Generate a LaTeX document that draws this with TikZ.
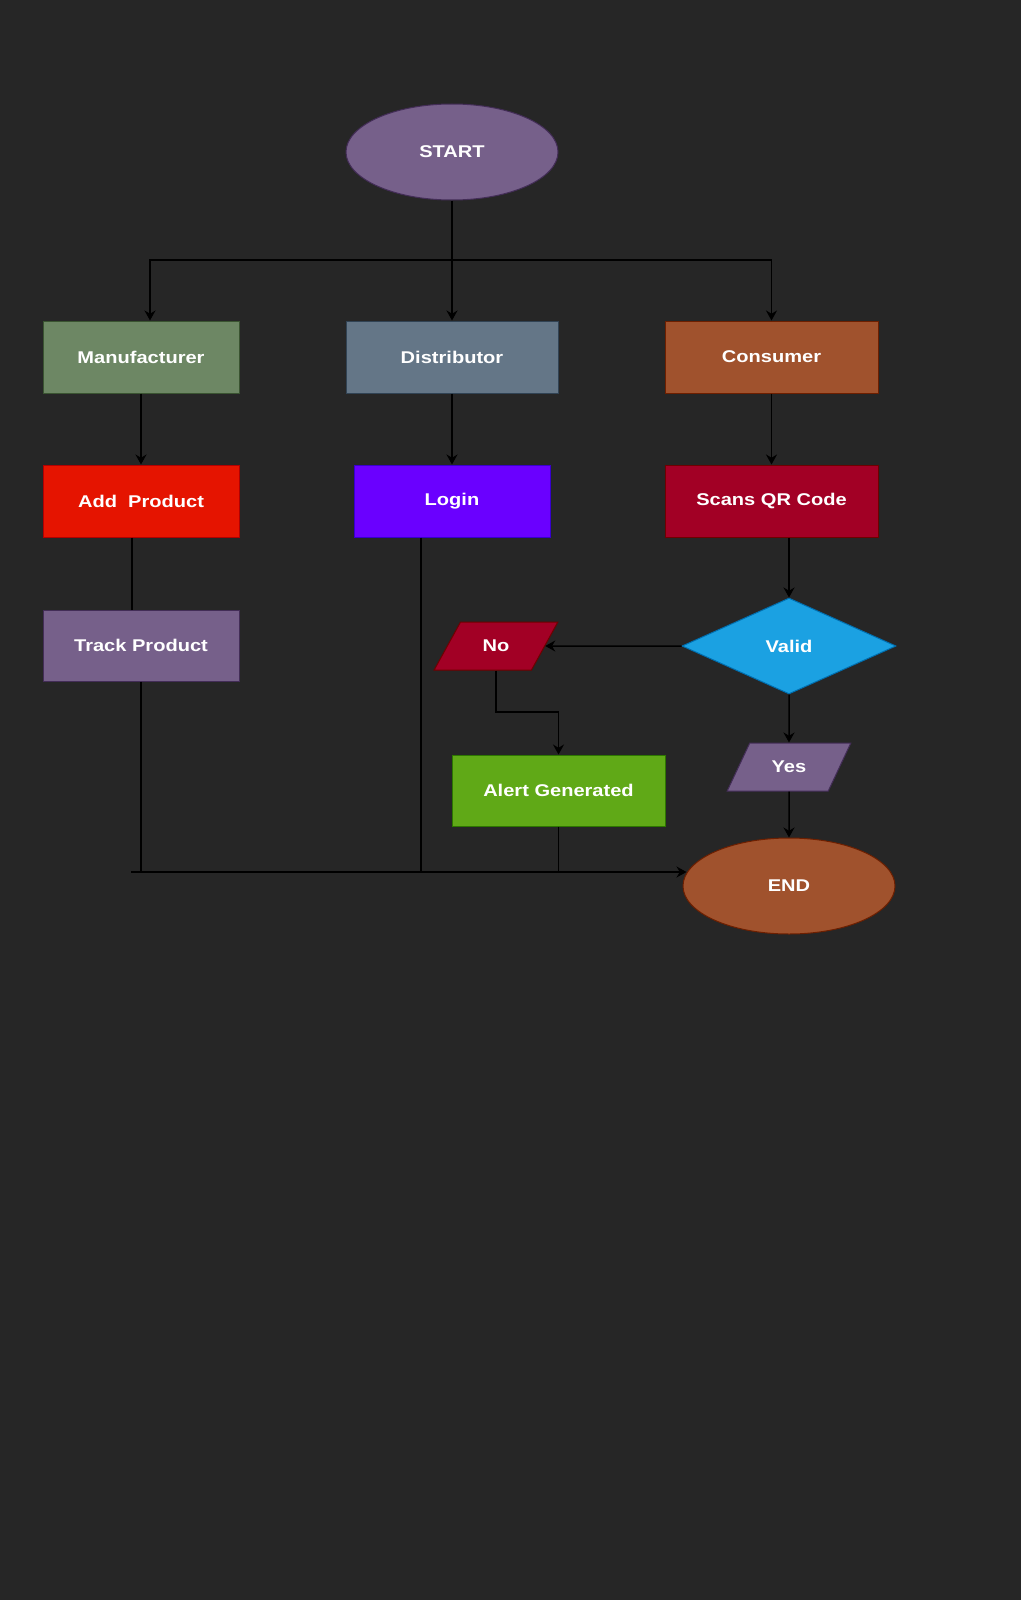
\documentclass[tikz,border=0pt]{standalone}
\usepackage{fontspec}
\setmainfont{Liberation Sans}[FakeStretch=1.18]
\usetikzlibrary{shapes.geometric,arrows.meta}

\definecolor{bg}{HTML}{262626}
\definecolor{purpleF}{HTML}{76608A}\definecolor{purpleD}{HTML}{432D57}
\definecolor{greenF}{HTML}{6D8764}\definecolor{greenD}{HTML}{3A5431}
\definecolor{slateF}{HTML}{647687}\definecolor{slateD}{HTML}{314354}
\definecolor{siennaF}{HTML}{A0522D}\definecolor{siennaD}{HTML}{6D1F00}
\definecolor{redF}{HTML}{E51400}\definecolor{redD}{HTML}{B20000}
\definecolor{violetF}{HTML}{6A00FF}\definecolor{violetD}{HTML}{3700CC}
\definecolor{crimsonF}{HTML}{A20025}\definecolor{crimsonD}{HTML}{6F0000}
\definecolor{cyanF}{HTML}{1BA1E2}\definecolor{cyanD}{HTML}{006EAF}
\definecolor{limeF}{HTML}{60A917}\definecolor{limeD}{HTML}{2D7600}

\begin{document}
\begin{tikzpicture}[x=1pt,y=-1pt,
  shapebase/.style={line width=1pt, text=white, inner sep=0pt,
    font=\fontsize{17}{20}\selectfont\bfseries},
  procbox/.style={shapebase, rectangle, minimum height=72},
  terminal/.style={shapebase, ellipse, minimum width=212, minimum height=96},
  decision/.style={shapebase, diamond, minimum width=214, minimum height=96},
  ioshape/.style={shapebase, trapezium, trapezium left angle=50, trapezium right angle=130,
    trapezium stretches=true, minimum width=124, minimum height=48},
  link/.style={line width=1.5pt, draw=black},
  arr/.style={link, -{Stealth[length=10pt,width=11pt]}}]

\fill[bg] (0,0) rectangle (1021,1600);
\useasboundingbox (0,0) rectangle (1021,1600);

% nodes
\node[terminal, fill=purpleF, draw=purpleD] (start) at (452,152) {START};

\node[procbox, minimum width=196, fill=greenF, draw=greenD] (manu) at (141,357) {Manufacturer};
\node[procbox, minimum width=212, fill=slateF, draw=slateD] (dist) at (452,357) {Distributor};
\node[procbox, minimum width=213, fill=siennaF, draw=siennaD] (cons) at (771.5,357) {Consumer};

\node[procbox, minimum width=196, fill=redF, draw=redD] (add) at (141,501) {Add~~Product};
\node[procbox, minimum width=196, fill=violetF, draw=violetD] (login) at (452,501) {Login};
\node[procbox, minimum width=213, fill=crimsonF, draw=crimsonD] (scan) at (771.5,501) {Scans QR Code};

\node[procbox, minimum width=196, minimum height=71, fill=purpleF, draw=purpleD] (track) at (141,645.5) {Track Product};
\node[decision, fill=cyanF, draw=cyanD] (valid) at (789,646) {Valid};
\node[ioshape, fill=crimsonF, draw=crimsonD] (no) at (496,646) {No};

\node[procbox, minimum width=213, minimum height=71, fill=limeF, draw=limeD] (alert) at (558.5,790.5) {Alert Generated};
\node[ioshape, fill=purpleF, draw=purpleD] (yes) at (789,767) {Yes};
\node[terminal, fill=siennaF, draw=siennaD] (end) at (789,886) {END};

% branch from START
\coordinate (fork) at (452,260);
\draw[link] (start.south) -- (fork);
\draw[arr] (fork) -- (dist.north);
\draw[arr] (fork) -| ([xshift=9]manu.north);
\draw[arr] (fork) -| (cons.north);

% columns
\draw[arr] (manu.south) -- (add.north);
\draw[arr] (dist.south) -- (login.north);
\draw[arr] (cons.south) -- (scan.north);
\draw[link] ([xshift=-9]add.south) -- ([xshift=-9]track.north);

% validation
\draw[arr] (scan.south -| valid.north) -- (valid.north);
\draw[arr] (valid.west) -- (no.east);
\coordinate (noelbow) at (558.5,712);
\draw[arr] (no.south) |- (noelbow) -- (alert.north);
\draw[arr] (valid.south) -- (yes.north);
\draw[arr] (yes.south) -- (end.north);

% collecting line into END
\coordinate (bus) at (131,872);
\draw[link] (track.south) -- (track.south |- bus);
\draw[link] ([xshift=-31]login.south) -- ([xshift=-31]login.south |- bus);
\draw[link] (alert.south) -- (alert.south |- bus);
\draw[arr] (bus) -- ([xshift=4]bus -| end.west);
\end{tikzpicture}
\end{document}
